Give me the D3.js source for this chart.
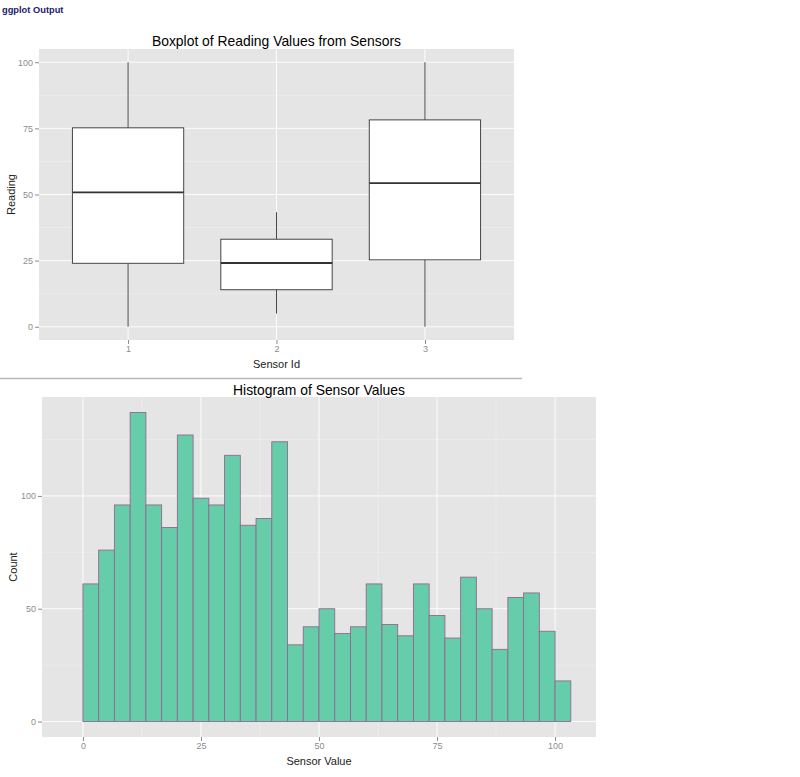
<!DOCTYPE html>
<html>
<head>
<meta charset="utf-8">
<script src="https://cdn.jsdelivr.net/npm/d3@7"></script>
<style>
  html, body { margin: 0; padding: 0; background: #fff; }
  svg { display: block; font-family: "Liberation Sans", Arial, sans-serif; }
</style>
</head>
<body>
<script>
// ---- Data: boxplot ----
const sensorIds = ["1", "2", "3"];
const whiskerLow = [0, 5, 0];
const q1Values = [24, 14, 25.3];
const medianValues = [50.8, 24.1, 54.3];
const q3Values = [75.2, 33.1, 78.2];
const whiskerHigh = [100, 43.3, 100];
const boxYTicks = [0, 25, 50, 75, 100];

// ---- Data: histogram ----
const binStart = -3.3333;
const binWidth = 3.3333;
const binCounts = [0, 61, 76, 96, 137, 96, 86, 127, 99, 96, 118, 87, 90, 124,
  34, 42, 50, 39, 42, 61, 43, 38, 61, 47, 37, 64, 50, 32, 55, 57, 40, 18];
const histXTicks = [0, 25, 50, 75, 100];
const histYTicks = [0, 50, 100];

const W = 800, H = 777;
const svg = d3.select("body").append("svg").attr("width", W).attr("height", H);

const panelBg = "#e5e5e5", gridMajor = "#ffffff", gridMinor = "#f0f0f0";
const tickCol = "#8a8a8a", labCol = "#8c8c8c", titleCol = "#000", axTitleCol = "#222";

// Header
svg.append("text").attr("x", 2).attr("y", 13)
  .attr("font-size", 9.3).attr("font-weight", "bold").attr("fill", "#1b1b6b")
  .text("ggplot Output");

// ================= Boxplot =================
const bp = { l: 39, r: 514, t: 49, b: 340 };
// discrete expansion of 0.6 units on each side
const stepB = (bp.r - bp.l) / 3.2;
const xPos = d3.scalePoint().domain(sensorIds).range([bp.l + 0.6 * stepB, bp.r - 0.6 * stepB]);
const yB = d3.scaleLinear().domain([-5, 105]).range([bp.b, bp.t]);

const gB = svg.append("g");
gB.append("rect").attr("x", bp.l).attr("y", bp.t).attr("width", bp.r - bp.l).attr("height", bp.b - bp.t).attr("fill", panelBg);
const boxMinor = [12.5, 37.5, 62.5, 87.5];
gB.selectAll(".ymin").data(boxMinor).join("line")
  .attr("x1", bp.l).attr("x2", bp.r).attr("y1", d => yB(d)).attr("y2", d => yB(d))
  .attr("stroke", gridMinor).attr("stroke-width", 0.6);
gB.selectAll(".ymaj").data(boxYTicks).join("line")
  .attr("x1", bp.l).attr("x2", bp.r).attr("y1", d => yB(d)).attr("y2", d => yB(d))
  .attr("stroke", gridMajor).attr("stroke-width", 0.9);
gB.selectAll(".xmaj").data(sensorIds).join("line")
  .attr("x1", d => xPos(d)).attr("x2", d => xPos(d)).attr("y1", bp.t).attr("y2", bp.b)
  .attr("stroke", gridMajor).attr("stroke-width", 0.9);

const boxW = 0.75 * stepB;
const boxes = sensorIds.map((id, i) => ({ id, lo: whiskerLow[i], q1: q1Values[i], med: medianValues[i], q3: q3Values[i], hi: whiskerHigh[i] }));
const bg = gB.selectAll(".box").data(boxes).join("g");
bg.append("line").attr("x1", d => xPos(d.id)).attr("x2", d => xPos(d.id))
  .attr("y1", d => yB(d.hi)).attr("y2", d => yB(d.q3)).attr("stroke", "#333").attr("stroke-width", 0.9);
bg.append("line").attr("x1", d => xPos(d.id)).attr("x2", d => xPos(d.id))
  .attr("y1", d => yB(d.q1)).attr("y2", d => yB(d.lo)).attr("stroke", "#333").attr("stroke-width", 0.9);
bg.append("rect").attr("x", d => xPos(d.id) - boxW / 2).attr("width", boxW)
  .attr("y", d => yB(d.q3)).attr("height", d => yB(d.q1) - yB(d.q3))
  .attr("fill", "#fff").attr("stroke", "#333").attr("stroke-width", 0.9);
bg.append("line").attr("x1", d => xPos(d.id) - boxW / 2).attr("x2", d => xPos(d.id) + boxW / 2)
  .attr("y1", d => yB(d.med)).attr("y2", d => yB(d.med)).attr("stroke", "#333").attr("stroke-width", 1.8);

const axBy = svg.append("g").attr("transform", `translate(${bp.l},0)`)
  .call(d3.axisLeft(yB).tickValues(boxYTicks).tickSize(4).tickPadding(2));
const axBx = svg.append("g").attr("transform", `translate(0,${bp.b})`)
  .call(d3.axisBottom(xPos).tickSize(4).tickPadding(2));
[axBy, axBx].forEach(a => {
  a.select(".domain").remove();
  a.selectAll(".tick line").attr("stroke", tickCol);
  a.selectAll(".tick text").attr("fill", labCol).attr("font-size", 9).attr("font-family", "Liberation Sans, Arial, sans-serif");
});

svg.append("text").attr("x", (bp.l + bp.r) / 2).attr("y", 46).attr("text-anchor", "middle")
  .attr("font-size", 13.9).attr("fill", titleCol).text("Boxplot of Reading Values from Sensors");
svg.append("text").attr("x", (bp.l + bp.r) / 2).attr("y", 368).attr("text-anchor", "middle")
  .attr("font-size", 11).attr("fill", axTitleCol).text("Sensor Id");
svg.append("text").attr("transform", `translate(15,${(bp.t + bp.b) / 2}) rotate(-90)`).attr("text-anchor", "middle")
  .attr("font-size", 11).attr("fill", axTitleCol).text("Reading");

svg.append("line").attr("x1", 0).attr("x2", 522).attr("y1", 378.5).attr("y2", 378.5)
  .attr("stroke", "#b8b8b8").attr("stroke-width", 1.5);

// ================= Histogram =================
const hp = { l: 42, r: 596, t: 397, b: 737 };
const xH = d3.scaleLinear().domain([-8.67, 108.67]).range([hp.l, hp.r]);
const yH = d3.scaleLinear().domain([-6.85, 143.85]).range([hp.b, hp.t]);

const gH = svg.append("g");
gH.append("rect").attr("x", hp.l).attr("y", hp.t).attr("width", hp.r - hp.l).attr("height", hp.b - hp.t).attr("fill", panelBg);
const hxMinor = [12.5, 37.5, 62.5, 87.5];
const hyMinor = [25, 75, 125];
gH.selectAll(".hxmin").data(hxMinor).join("line")
  .attr("x1", d => xH(d)).attr("x2", d => xH(d)).attr("y1", hp.t).attr("y2", hp.b)
  .attr("stroke", gridMinor).attr("stroke-width", 0.6);
gH.selectAll(".hymin").data(hyMinor).join("line")
  .attr("x1", hp.l).attr("x2", hp.r).attr("y1", d => yH(d)).attr("y2", d => yH(d))
  .attr("stroke", gridMinor).attr("stroke-width", 0.6);
gH.selectAll(".hxmaj").data(histXTicks).join("line")
  .attr("x1", d => xH(d)).attr("x2", d => xH(d)).attr("y1", hp.t).attr("y2", hp.b)
  .attr("stroke", gridMajor).attr("stroke-width", 0.9);
gH.selectAll(".hymaj").data(histYTicks).join("line")
  .attr("x1", hp.l).attr("x2", hp.r).attr("y1", d => yH(d)).attr("y2", d => yH(d))
  .attr("stroke", gridMajor).attr("stroke-width", 0.9);

const bins = binCounts.map((c, i) => ({ x0: binStart + i * binWidth, x1: binStart + (i + 1) * binWidth, c }));
gH.selectAll(".bar").data(bins).join("rect")
  .attr("x", d => xH(d.x0)).attr("width", d => xH(d.x1) - xH(d.x0))
  .attr("y", d => yH(d.c)).attr("height", d => yH(0) - yH(d.c))
  .attr("fill", "#66cdaa").attr("stroke", "#93698c").attr("stroke-width", 0.9);

const axHy = svg.append("g").attr("transform", `translate(${hp.l},0)`)
  .call(d3.axisLeft(yH).tickValues(histYTicks).tickSize(4).tickPadding(2));
const axHx = svg.append("g").attr("transform", `translate(0,${hp.b})`)
  .call(d3.axisBottom(xH).tickValues(histXTicks).tickSize(4).tickPadding(2));
[axHy, axHx].forEach(a => {
  a.select(".domain").remove();
  a.selectAll(".tick line").attr("stroke", tickCol);
  a.selectAll(".tick text").attr("fill", labCol).attr("font-size", 9).attr("font-family", "Liberation Sans, Arial, sans-serif");
});

svg.append("text").attr("x", (hp.l + hp.r) / 2).attr("y", 395).attr("text-anchor", "middle")
  .attr("font-size", 13.9).attr("fill", titleCol).text("Histogram of Sensor Values");
svg.append("text").attr("x", (hp.l + hp.r) / 2).attr("y", 765).attr("text-anchor", "middle")
  .attr("font-size", 11).attr("fill", axTitleCol).text("Sensor Value");
svg.append("text").attr("transform", `translate(17,${(hp.t + hp.b) / 2}) rotate(-90)`).attr("text-anchor", "middle")
  .attr("font-size", 11).attr("fill", axTitleCol).text("Count");
</script>
</body>
</html>
